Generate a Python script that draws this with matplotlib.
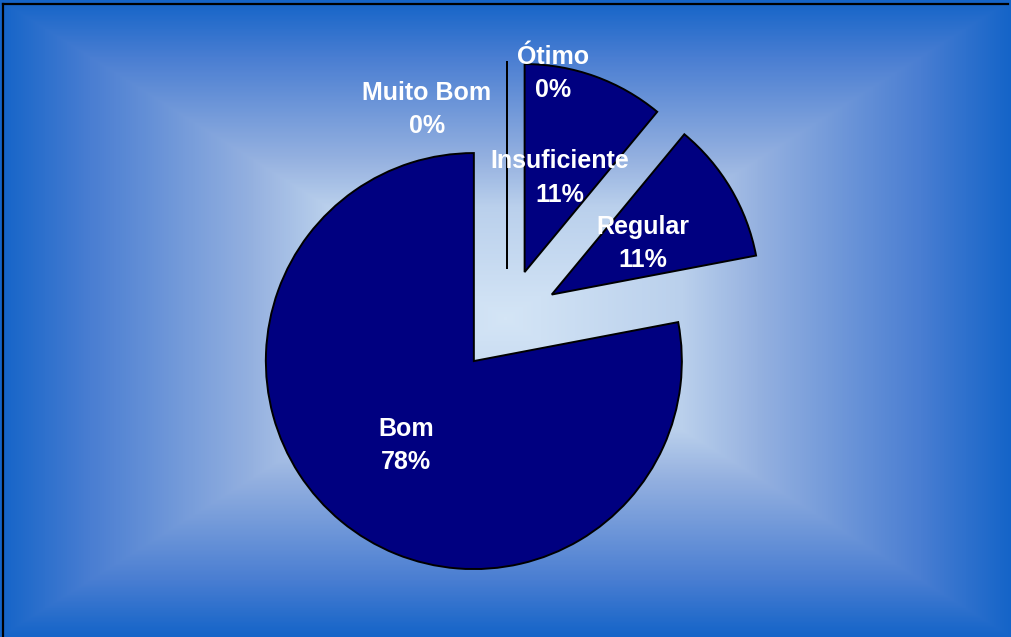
import numpy as np
import matplotlib
matplotlib.use("Agg")
import matplotlib.pyplot as plt
from matplotlib.colors import LinearSegmentedColormap

# data, clockwise from 12 o'clock
labels = ["Ótimo", "Insuficiente", "Regular", "Bom", "Muito Bom"]
values = [0, 11, 11, 78, 0]
pct_labels = ["0%", "11%", "11%", "78%", "0%"]

W, H = 1012, 637
fig = plt.figure(figsize=(W / 100, H / 100), dpi=100)
ax = fig.add_axes([0, 0, 1, 1])

# box gradient background (light centre, blue edges)
cx, cy = 505, 318
xx, yy = np.meshgrid(np.arange(W), np.arange(H))
t = np.maximum(np.abs(xx - cx) / (W / 2), np.abs(yy - cy) / (H / 2))
t = np.clip(t, 0, 1)
cmap = LinearSegmentedColormap.from_list(
    "bg", [(0, "#d4e5f6"), (0.35, "#bad0ec"), (0.5, "#95b1e0"),
           (0.82, "#4a7ed2"), (1, "#1464c8")])
ax.imshow(t, cmap=cmap, extent=(0, W, 0, H), origin="lower", zorder=0,
          interpolation="bilinear")

center = (507, 316)
radius = 208
wedges, _ = ax.pie(values, startangle=90, counterclock=False, colors=["#000080"] * 5,
                   explode=[52] * 5, center=center, radius=radius,
                   wedgeprops=dict(edgecolor="black", linewidth=1.4), frame=True)
for w in wedges:
    w.set_zorder(2)
ax.set_xlim(0, W)
ax.set_ylim(0, H)
ax.set_aspect("equal")
ax.axis("off")

# label placement: (distance from centre, angle) per slice
total = sum(values)
start = 90.0
label_pos = []
for v in values:
    mid = start - 360.0 * v / total / 2
    label_pos.append(mid)
    start -= 360.0 * v / total
r_lab = [255, 155, 158, 158, 229]
ang_adj = [79.5, None, None, None, 110.5]

for lab, pct, mid, r, adj in zip(labels, pct_labels, label_pos, r_lab, ang_adj):
    a = np.deg2rad(adj if adj is not None else mid)
    x = center[0] + r * np.cos(a)
    y = center[1] + r * np.sin(a) - 3
    ax.text(x, y, f"{lab}\n{pct}", ha="center", va="center", color="white",
            fontsize=18, fontweight="bold", family="Liberation Sans",
            linespacing=1.5, zorder=5)

# frame lines on top and left
fig.add_artist(plt.Line2D([3.5 / W, 3.5 / W], [0, 1 - 3.5 / H], color="black",
                          lw=1.6, transform=fig.transFigure))
fig.add_artist(plt.Line2D([3.5 / W, 1008 / W], [1 - 3.5 / H, 1 - 3.5 / H], color="black",
                          lw=1.6, transform=fig.transFigure))

fig.savefig("out.png", dpi=100)
